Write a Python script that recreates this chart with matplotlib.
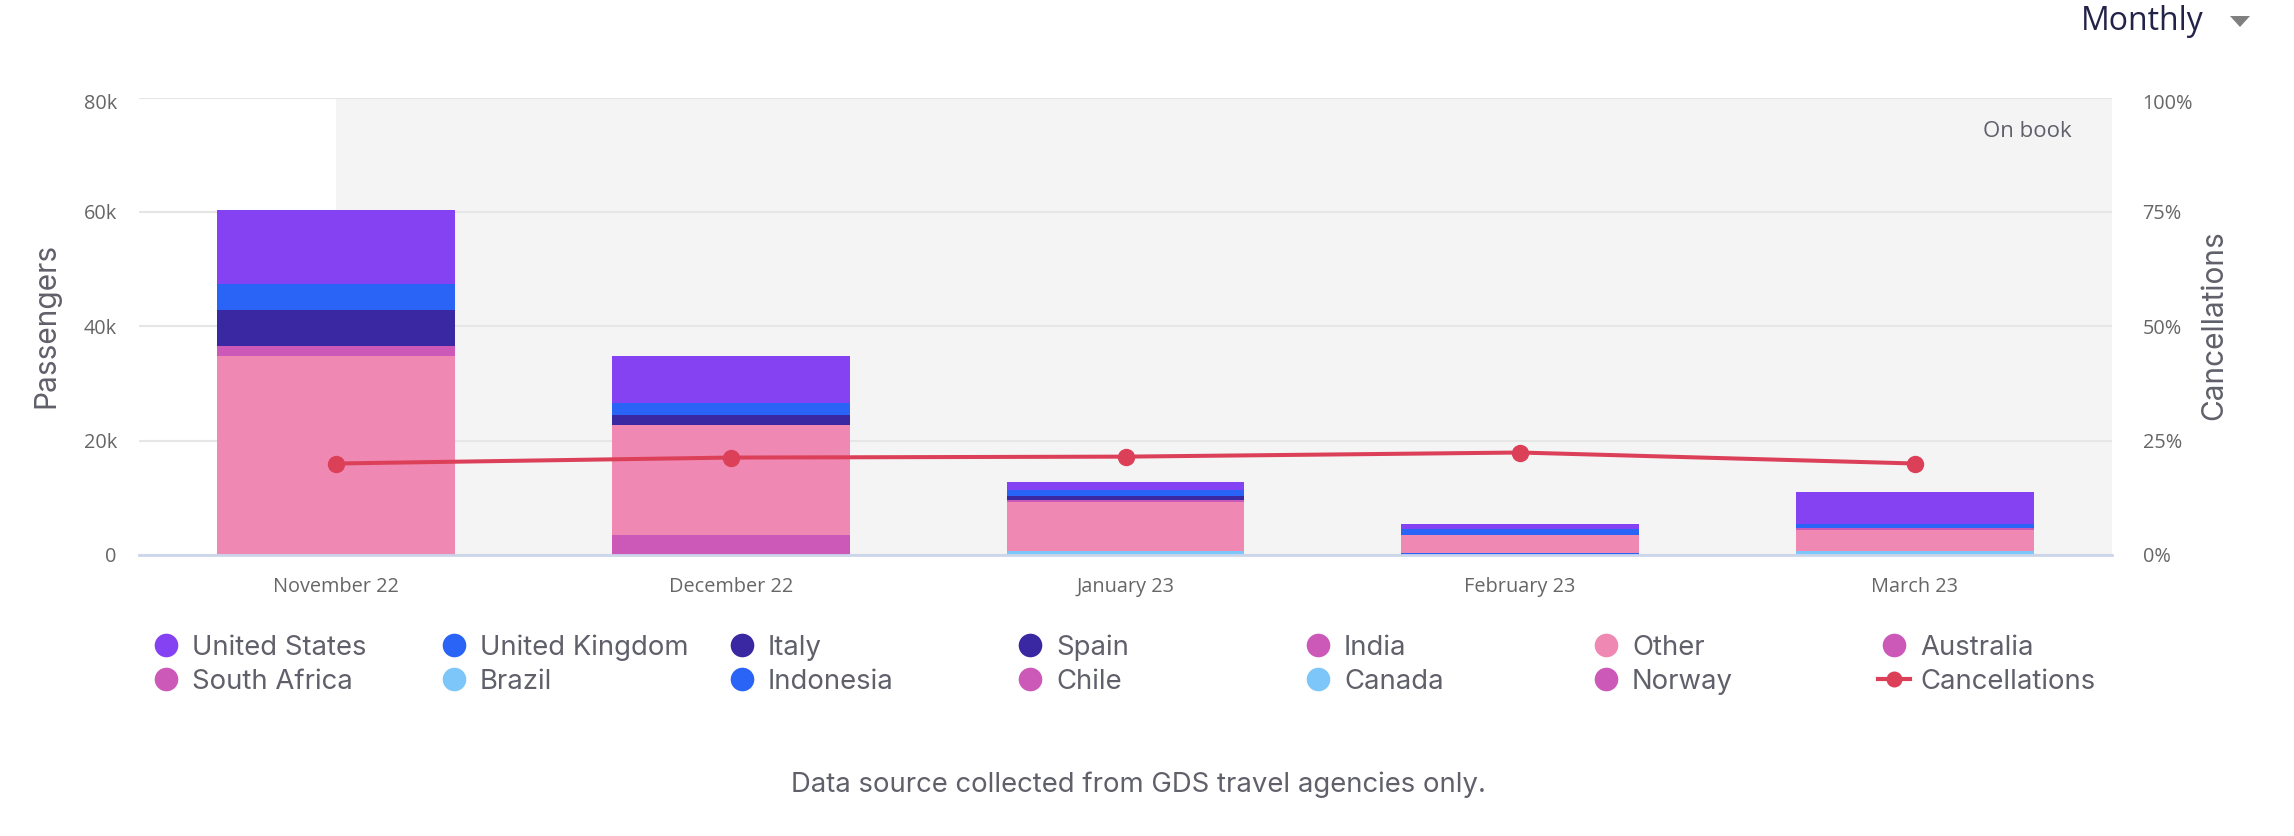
import numpy as np
import matplotlib.pyplot as plt
from matplotlib.lines import Line2D
from matplotlib.patches import Polygon
from matplotlib.transforms import ScaledTranslation

W, H = 2294, 836
DPI = 100
TICK_FONT = 'Open Sans'
LEG_FONT = 'Inter'
TICK_SIZE = 14.3
LEG_SIZE = 19.8

months = ['November 22', 'December 22', 'January 23', 'February 23', 'March 23']

# stacked top to bottom, values in thousands of passengers
united_states = [12.9, 8.07, 1.5, 0.8, 5.7]
united_kingdom = [4.6, 2.1, 1.05, 1.05, 0.7]
italy = [3.5, 1.0, 0.4, 0.0, 0.0]
spain = [2.8, 0.75, 0.3, 0.0, 0.0]
india = [1.75, 0.0, 0.35, 0.0, 0.35]
other = [34.8, 19.3, 8.5, 3.15, 3.6]
australia = [0.0, 3.5, 0.0, 0.0, 0.0]
south_africa = [0.0, 0.0, 0.0, 0.0, 0.0]
brazil = [0.0, 0.0, 0.0, 0.0, 0.4]
indonesia = [0.0, 0.0, 0.0, 0.35, 0.0]
chile = [0.0, 0.0, 0.0, 0.0, 0.0]
canada = [0.0, 0.0, 0.7, 0.0, 0.3]
norway = [0.0, 0.0, 0.0, 0.0, 0.0]
cancellations = [20.0, 21.3, 21.5, 22.4, 20.0]

series_names = ['United States', 'United Kingdom', 'Italy', 'Spain', 'India', 'Other', 'Australia',
                'South Africa', 'Brazil', 'Indonesia', 'Chile', 'Canada', 'Norway']
series_values = [united_states, united_kingdom, italy, spain, india, other, australia,
                 south_africa, brazil, indonesia, chile, canada, norway]

PURPLE = '#8442f3'
BLUE = '#2a64f6'
NAVY = '#3a28a2'
MAGENTA = '#cc58b8'
PINK = '#ef88b2'
SKY = '#7cc6f9'
RED = '#dc4058'
series_colors = [PURPLE, BLUE, NAVY, NAVY, MAGENTA, PINK, MAGENTA,
                 MAGENTA, SKY, BLUE, MAGENTA, SKY, MAGENTA]


def fx(px):
    return px / W


def fy(py):
    return 1 - py / H


fig = plt.figure(figsize=(W / DPI, H / DPI), dpi=DPI, facecolor='white')
ax = fig.add_axes([fx(139), fy(555), fx(2112 - 139), (555 - 97.5) / H])
ax.set_xlim(-0.5, 4.5)
ax.set_ylim(0, 80)
ax.axvspan(0, 4.5, facecolor='#f4f4f5', edgecolor='none', zorder=0)
ax.set_axisbelow(True)
ax.grid(axis='y', color='#e6e6e6', linewidth=1.5)

# stack from the bottom series up
x = np.arange(len(months))
bottom = np.zeros(len(months))
for name, values, color in zip(series_names[::-1], series_values[::-1], series_colors[::-1]):
    ax.bar(x, values, width=0.603, bottom=bottom, color=color, label=name, zorder=2)
    bottom += np.array(values)

ax.set_xticks(x)
ax.set_xticklabels(months, fontsize=TICK_SIZE, family=TICK_FONT, color='#666666')
ax.set_yticks([0, 20, 40, 60, 80])
ax.set_yticklabels(['0', '20k', '40k', '60k', '80k'], fontsize=TICK_SIZE, family=TICK_FONT, color='#666666')
ax.tick_params(axis='both', which='both', length=0)
ax.tick_params(axis='x', pad=16)
ax.tick_params(axis='y', pad=16)
for side in ['top', 'left', 'right']:
    ax.spines[side].set_visible(False)
ax.spines['bottom'].set_color('#ccd6eb')
ax.spines['bottom'].set_linewidth(2)

ax2 = ax.twinx()
ax2.set_ylim(0, 100)
ax2.set_yticks([0, 25, 50, 75, 100])
ax2.set_yticklabels(['0%', '25%', '50%', '75%', '100%'], fontsize=TICK_SIZE, family=TICK_FONT, color='#666666')
ax2.tick_params(axis='y', length=0, pad=22)
for side in ['top', 'left', 'right', 'bottom']:
    ax2.spines[side].set_visible(False)
ax2.plot(x, cancellations, color=RED, linewidth=2.9, marker='o', markersize=11.5, zorder=5)

# the top tick labels sit below the top gridline
shift = ScaledTranslation(0, -4 / DPI, fig.dpi_scale_trans)
for label in [ax.get_yticklabels()[-1], ax2.get_yticklabels()[-1]]:
    label.set_transform(label.get_transform() + shift)

ax.text(0.9797, 0.925, 'On book', transform=ax.transAxes, ha='right', va='center',
        fontsize=16, family=TICK_FONT, color='#60606b')

fig.text(fx(46), fy(325), 'Passengers', rotation=90, ha='center', va='center',
         fontsize=21.5, family=LEG_FONT, color='#60606b')
fig.text(fx(2214), fy(325), 'Cancellations', rotation=90, ha='center', va='center',
         fontsize=21.5, family=LEG_FONT, color='#60606b')

fig.text(fx(2081), fy(22), 'Monthly', ha='left', va='center', fontsize=23, family=TICK_FONT, color='#23234a')
fig.add_artist(Polygon([[fx(2230), fy(16)], [fx(2250), fy(16)], [fx(2240), fy(27)]],
                       closed=True, transform=fig.transFigure, facecolor='#808080', edgecolor='none'))

# legend, fixed item width, filled row by row
legend_names = series_names + ['Cancellations']
legend_colors = series_colors + [RED]
for n, (name, color) in enumerate(zip(legend_names, legend_colors)):
    col = n % 7
    row = n // 7
    mx = 166 + col * 288
    my = 645 + row * 34
    size = 17
    if name == 'Cancellations':
        size = 11.5
        fig.add_artist(Line2D([fx(mx - 16), fx(mx + 16)], [fy(my), fy(my)], color=color, linewidth=3,
                              transform=fig.transFigure))
    fig.add_artist(Line2D([fx(mx)], [fy(my)], marker='o', markersize=size, color=color,
                          markeredgewidth=0, linestyle='none', transform=fig.transFigure))
    fig.text(fx(mx + 26), fy(my), name, ha='left', va='center_baseline', fontsize=LEG_SIZE,
             family=LEG_FONT, color='#60606b')

fig.text(fx(1138), fy(785), 'Data source collected from GDS travel agencies only.', ha='center', va='center',
         fontsize=LEG_SIZE, family=LEG_FONT, color='#60606b')

fig.savefig('out.png', dpi=DPI)
